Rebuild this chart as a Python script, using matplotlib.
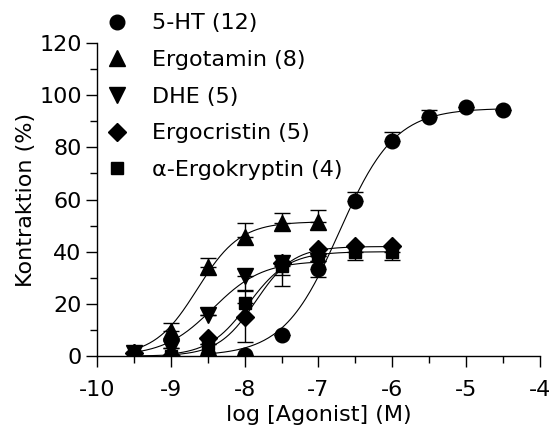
import numpy as np
from matplotlib import rc, pyplot as plt
from matplotlib.ticker import MultipleLocator

rc('font', family = 'DejaVu Sans', size = 16)
rc('axes', unicode_minus = False)
rc('axes.spines', top = False, right = False)

# Messwerte (Mittelwert, SEM unten/oben) ---------------------------------------------------------- #
ht_x = [-8.5, -8, -7.5, -7, -6.5, -6, -5.5, -5, -4.5]
ht_y = [0.5, 0.5, 8, 33.5, 59.5, 82.5, 91.5, 95.5, 94.5]
ht_lo = [0, 0, 0, 3.3, 0, 0, 0, 0, 0]
ht_hi = [0, 0, 0, 0, 3.5, 3.5, 2.7, 0, 0]

ergot_x = [-9.5, -9, -8.5, -8, -7.5, -7]
ergot_y = [1.5, 9.5, 34, 45.7, 51, 51.5]
ergot_lo = [0, 0, 0, 0, 0, 0]
ergot_hi = [0, 3.2, 3.6, 5.3, 3.8, 4.5]

dhe_x = [-9.5, -9, -8.5, -8, -7.5, -7]
dhe_y = [1, 3, 15.7, 30.5, 35.7, 36.5]
dhe_lo = [0, 0, 0, 5.5, 4.7, 0]
dhe_hi = [0, 0, 0, 0, 0, 0]

cris_x = [-9.5, -9, -8.5, -8, -7.5, -7, -6.5, -6]
cris_y = [1, 0, 7, 15, 35.5, 41, 42, 42]
cris_lo = [0, 0, 0, 9.5, 0, 0, 0, 0]
cris_hi = [0, 0, 0, 0, 0, 0, 0, 0]

krypt_x = [-9, -8.5, -8, -7.5, -7, -6.5, -6]
krypt_y = [0, 4.5, 20.5, 34.5, 38.5, 40, 40]
krypt_lo = [0, 0, 0, 7.5, 0, 3, 3]
krypt_hi = [0, 0, 5, 0, 0, 0, 0]

# Parameter der Kurvenanpassung (Top, logEC50, Hill)
ht_fit = (95, -6.72, 1.15)
ergot_fit = (51.5, -8.64, 1.5)
dhe_fit = (36.5, -8.43, 1.3)
cris_fit = (42, -7.85, 1.7)
krypt_fit = (40, -7.95, 1.6)

labels = ['5-HT (12)', 'Ergotamin (8)', 'DHE (5)', 'Ergocristin (5)', 'α-Ergokryptin (4)']

serien = [
    (ht_x, ht_y, ht_lo, ht_hi, ht_fit, 'o', 10.5),
    (ergot_x, ergot_y, ergot_lo, ergot_hi, ergot_fit, '^', 11),
    (dhe_x, dhe_y, dhe_lo, dhe_hi, dhe_fit, 'v', 11),
    (cris_x, cris_y, cris_lo, cris_hi, cris_fit, 'D', 9.5),
    (krypt_x, krypt_y, krypt_lo, krypt_hi, krypt_fit, 's', 8),
]

fig = plt.figure(figsize = (5.59, 4.30), dpi = 100)
ax = fig.add_axes([0.1735, 0.172, 0.7925, 0.728])

handles = []
for (x, y, lo, hi, fit, m, ms), lab in zip(serien, labels):
    top, ec50, hill = fit
    xs = np.linspace(min(x), max(x), 200)
    ax.plot(xs, top / (1 + 10 ** (hill * (ec50 - xs))), color = 'black', lw = 0.8, zorder = 2)
    ax.errorbar(x, y, yerr = [lo, hi], fmt = 'none', ecolor = 'black', elinewidth = 1, capsize = 5.5, capthick = 1, zorder = 3)
    h, = ax.plot(x, y, linestyle = 'none', marker = m, markersize = ms, color = 'black', zorder = 4, label = lab)
    handles.append(h)

ax.set_xlim(-10, -4)
ax.set_ylim(0, 120)
ax.xaxis.set_major_locator(MultipleLocator(1))
ax.xaxis.set_minor_locator(MultipleLocator(0.5))
ax.yaxis.set_major_locator(MultipleLocator(20))
ax.yaxis.set_minor_locator(MultipleLocator(10))
ax.tick_params(which = 'major', direction = 'out', length = 8, width = 1, pad = 3)
ax.tick_params(which = 'minor', direction = 'out', length = 5, width = 1)
ax.tick_params(axis = 'x', which = 'major', pad = 9)
for s in ['left', 'bottom']:
    ax.spines[s].set_linewidth(1)
ax.set_xlabel('log [Agonist] (M)', labelpad = 4)
ax.set_ylabel('Kontraktion (%)', labelpad = 2)

fig.legend(handles = handles, loc = 'upper left', bbox_to_anchor = (0.189, 0.969), frameon = False,
           handlelength = 1.0, handletextpad = 1.1, labelspacing = 0.75, borderaxespad = 0.0,
           borderpad = 0.0, numpoints = 1)

fig.savefig('out.png', dpi = 100)
